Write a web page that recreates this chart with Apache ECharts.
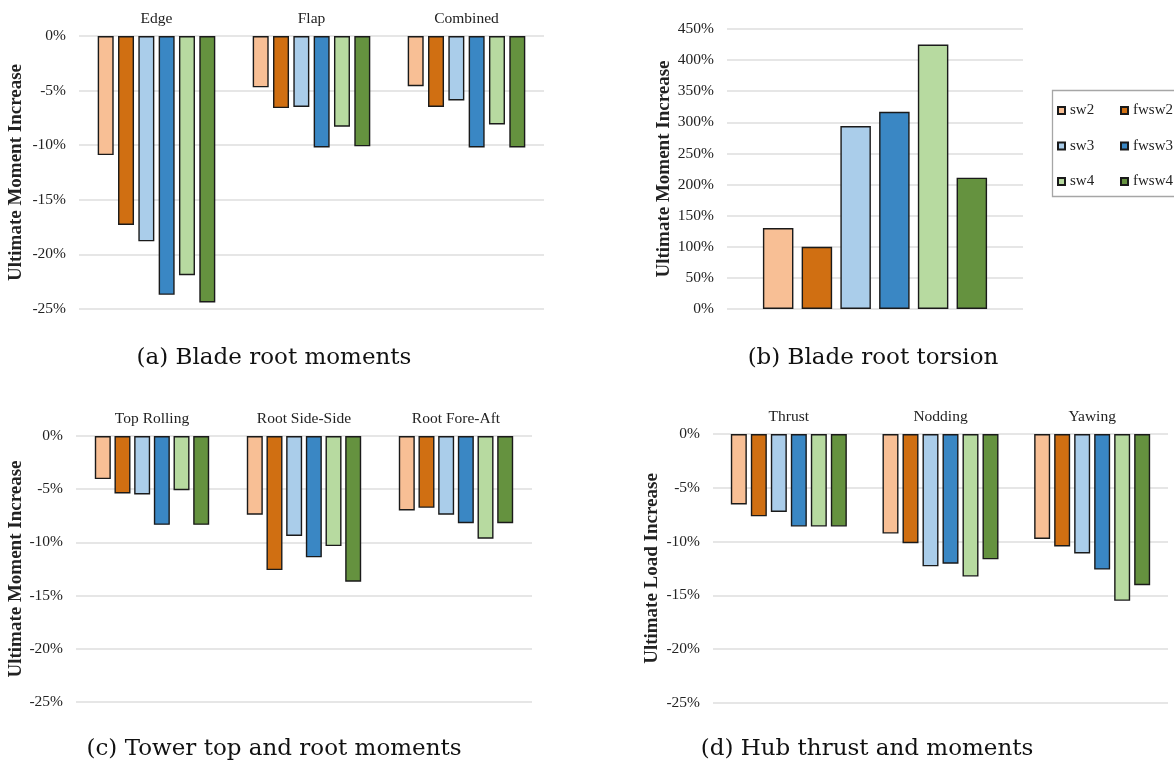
<!DOCTYPE html>
<html>
<head>
<meta charset="utf-8">
<title>Ultimate load changes by controller configuration</title>
<script src="https://cdn.jsdelivr.net/npm/echarts@6/dist/echarts.min.js"></script>
<style>
  html, body { margin: 0; padding: 0; background: #ffffff; }
  #chart { width: 1174px; height: 765px; }
</style>
</head>
<body>
<div id="chart"></div>
<script>
// Controller configurations (one bar colour each)
const scenarios = ['sw2', 'fwsw2', 'sw3', 'fwsw3', 'sw4', 'fwsw4'];

// (a) Blade root moments, % change per configuration: [Edge, Flap, Combined]
const bladeCategories = ['Edge', 'Flap', 'Combined'];
const bladeRootMoments = [
  [-10.9, -4.7, -4.6],
  [-17.3, -6.6, -6.5],
  [-18.8, -6.5, -5.9],
  [-23.7, -10.2, -10.2],
  [-21.9, -8.3, -8.1],
  [-24.4, -10.1, -10.2]
];

// (b) Blade root torsion, % change per configuration
const torsionCategories = ['Torsion'];
const bladeRootTorsion = [130, 100, 294, 317, 425, 211];

// (c) Tower top and root moments: [Top Rolling, Root Side-Side, Root Fore-Aft]
const towerCategories = ['Top Rolling', 'Root Side-Side', 'Root Fore-Aft'];
const towerMoments = [
  [-4.05, -7.4, -7.0],
  [-5.4, -12.6, -6.75],
  [-5.5, -9.4, -7.4],
  [-8.35, -11.4, -8.2],
  [-5.1, -10.35, -9.65],
  [-8.35, -13.7, -8.2]
];

// (d) Hub thrust and moments: [Thrust, Nodding, Yawing]
const hubCategories = ['Thrust', 'Nodding', 'Yawing'];
const hubLoads = [
  [-6.55, -9.25, -9.75],
  [-7.65, -10.15, -10.45],
  [-7.25, -12.3, -11.1],
  [-8.6, -12.05, -12.6],
  [-8.6, -13.25, -15.5],
  [-8.6, -11.65, -14.05]
];

// Sub-figure captions
const captions = [
  '(a) Blade root moments',
  '(b) Blade root torsion',
  '(c) Tower top and root moments',
  '(d) Hub thrust and moments'
];

// Styling
const fills = ['#F8BF95', '#D06F12', '#AACDEA', '#3A87C4', '#B7DAA0', '#65923F'];
const SERIF = '"Liberation Serif", "Times New Roman", serif';
const CAPTION_FONT = '"DejaVu Serif", serif';
const TEXT = '#222222';
const GRID_LINE = '#dedede';

const grids = [
  { left: 79,  top: 36,  width: 465, height: 273 },
  { left: 727, top: 29,  width: 296, height: 280 },
  { left: 76,  top: 436, width: 456, height: 266 },
  { left: 713, top: 434, width: 455, height: 269 }
];

function xAxisFor(idx, cats, showLabels) {
  return {
    type: 'category',
    gridIndex: idx,
    position: 'top',
    data: cats,
    axisLine: { show: false },
    axisTick: { show: false },
    axisLabel: {
      show: showLabels,
      margin: 9,
      fontFamily: SERIF,
      fontSize: 15.5,
      color: TEXT
    }
  };
}

function yAxisFor(idx, min, max, interval, name, nameGap) {
  return {
    type: 'value',
    gridIndex: idx,
    min: min,
    max: max,
    interval: interval,
    name: name,
    nameLocation: 'middle',
    nameGap: nameGap,
    nameTextStyle: {
      fontFamily: SERIF,
      fontWeight: 'bold',
      fontSize: 19,
      color: TEXT
    },
    axisLine: { show: false },
    axisTick: { show: false },
    splitLine: { lineStyle: { color: GRID_LINE, width: 1.6 } },
    axisLabel: {
      margin: 13,
      fontFamily: SERIF,
      fontSize: 15.5,
      color: TEXT,
      formatter: '{value}%'
    }
  };
}

function barSeries(idx, values, barWidth, barGap) {
  return scenarios.map((name, i) => ({
    name: name,
    type: 'bar',
    xAxisIndex: idx,
    yAxisIndex: idx,
    data: Array.isArray(values[i]) ? values[i] : [values[i]],
    barWidth: barWidth,
    barGap: barGap,
    itemStyle: {
      color: fills[i],
      borderColor: '#1a1a1a',
      borderWidth: 1.4
    },
    emphasis: { disabled: true },
    animation: false
  }));
}

const series = []
  .concat(barSeries(0, bladeRootMoments, 16, '27%'))
  .concat(barSeries(1, bladeRootTorsion, 30.5, '27%'))
  .concat(barSeries(2, towerMoments, 16, '23%'))
  .concat(barSeries(3, hubLoads, 16, '25%'));

const captionPos = [
  [274, 358], [873, 358], [274, 749], [867, 749]
];

const legendText = {
  fontFamily: SERIF,
  fontSize: 15,
  lineHeight: 15,
  color: TEXT
};

const option = {
  backgroundColor: '#ffffff',
  animation: false,
  grid: grids,
  xAxis: [
    xAxisFor(0, bladeCategories, true),
    xAxisFor(1, torsionCategories, false),
    xAxisFor(2, towerCategories, true),
    xAxisFor(3, hubCategories, true)
  ],
  yAxis: [
    yAxisFor(0, -25, 0, 5, 'Ultimate Moment Increase', 53),
    yAxisFor(1, 0, 450, 50, 'Ultimate Moment Increase', 53),
    yAxisFor(2, -25, 0, 5, 'Ultimate Moment Increase', 50),
    yAxisFor(3, -25, 0, 5, 'Ultimate Load Increase', 51)
  ],
  legend: [
    {
      orient: 'vertical',
      left: 1057,
      top: 103,
      padding: 0,
      itemGap: 20.5,
      itemWidth: 7,
      itemHeight: 7,
      icon: 'rect',
      selectedMode: false,
      data: [scenarios[0], scenarios[2], scenarios[4]],
      textStyle: legendText
    },
    {
      orient: 'vertical',
      left: 1120,
      top: 103,
      padding: 0,
      itemGap: 20.5,
      itemWidth: 7,
      itemHeight: 7,
      icon: 'rect',
      selectedMode: false,
      data: [scenarios[1], scenarios[3], scenarios[5]],
      textStyle: legendText
    }
  ],
  graphic: [
    {
      type: 'rect',
      shape: { x: 1052.5, y: 90.5, width: 140, height: 106 },
      style: { fill: 'none', stroke: '#a6a6a6', lineWidth: 1.3 },
      silent: true
    }
  ].concat(captions.map((t, i) => ({
    type: 'text',
    x: captionPos[i][0],
    y: captionPos[i][1],
    style: {
      text: t,
      font: '23px ' + CAPTION_FONT,
      fill: '#111111',
      textAlign: 'center',
      textVerticalAlign: 'middle'
    },
    silent: true
  }))),
  series: series
};

const chart = echarts.init(document.getElementById('chart'), null, { renderer: 'canvas' });
chart.setOption(option);
</script>
</body>
</html>
